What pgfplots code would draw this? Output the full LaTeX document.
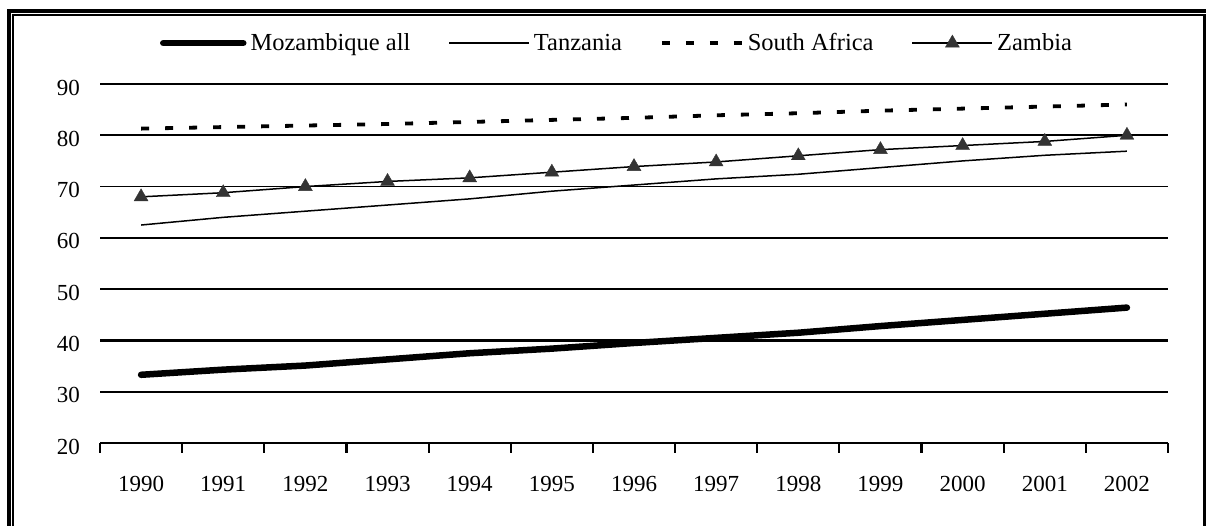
\documentclass[border=0pt]{standalone}
\usepackage{fontspec}
\setmainfont{Liberation Serif}
\usepackage{pgfplots}
\pgfplotsset{compat=1.18}
\begin{document}
\begin{tikzpicture}[x=1pt,y=1pt]
\useasboundingbox (0,0) rectangle (1206,526);
% frame (open at the bottom)
\fill[black] (6.7,0) rectangle (10.7,516.7);
\fill[black] (6.7,516.7) rectangle (1206,513.3);
\fill[black] (12.2,0) rectangle (14,511.7);
\fill[black] (12.2,511.7) rectangle (1203.3,510.1);
\fill[black] (1203.3,0) rectangle (1206,511.7);
\begin{axis}[
  at={(100pt,83pt)}, anchor=south west,
  width=1068pt, height=359pt, scale only axis,
  xmin=-0.5, xmax=12.5, ymin=20, ymax=90,
  axis x line=bottom, axis y line=left,
  y axis line style={draw=none},
  x axis line style={-, line width=2.5pt, black},
  xtick={0,1,2,3,4,5,6,7,8,9,10,11,12},
  xticklabels={1990,1991,1992,1993,1994,1995,1996,1997,1998,1999,2000,2001,2002},
  minor xtick={-0.5,0.5,...,12.5},
  major tick length=0pt, minor tick length=10pt, tick align=outside,
  minor tick style={line width=2.2pt, black},
  major tick style={draw=none},
  ytick={20,30,40,60,80,90},
  extra y ticks={50,70},
  ymajorgrids,
  major grid style={black, line width=2.3pt},
  extra y tick style={ymajorgrids=true, major grid style={black, line width=1.3pt}, major tick style={draw=none}},
  /pgf/number format/assume math mode=true,
  ticklabel style={font=\fontsize{23}{26}\selectfont, inner sep=0pt},
  yticklabel style={anchor=east, xshift=-20pt, yshift=-3.5pt},
  xticklabel style={anchor=north, yshift=-33pt},
  legend style={at={(0.0562,1.114)}, anchor=west, draw=none, fill=none,
    inner sep=0pt, outer sep=0pt, legend columns=4,
    font=\fontsize{24.5}{29}\selectfont, nodes={inner sep=0pt},
    /tikz/every odd column/.append style={column sep=4pt},
    /tikz/every even column/.append style={column sep=38pt}},
  legend cell align=left,
  legend image code/.code={\draw[mark repeat=2,mark phase=2,#1] plot coordinates {(0pt,0pt) (40pt,0pt) (80pt,0pt)};},
]
\addplot[black, line width=6.5pt, line cap=round, line join=round] coordinates {
(0,33.3) (1,34.3) (2,35.1) (3,36.3) (4,37.5) (5,38.4) (6,39.5) (7,40.5) (8,41.5) (9,42.8) (10,44.0) (11,45.2) (12,46.4)};
\addlegendentry{Mozambique all}
\addplot[black, line width=1.5pt] coordinates {
(0,62.5) (1,64.0) (2,65.2) (3,66.4) (4,67.6) (5,69.1) (6,70.3) (7,71.5) (8,72.4) (9,73.7) (10,75.0) (11,76.1) (12,76.9)};
\addlegendentry{Tanzania}
\addplot[black, line width=3.8pt, dash pattern=on 8pt off 16pt] coordinates {
(0,81.3) (1,81.6) (2,81.9) (3,82.2) (4,82.6) (5,83.0) (6,83.4) (7,83.9) (8,84.3) (9,84.8) (10,85.2) (11,85.6) (12,86.0)};
\addlegendentry{South Africa}
\addplot[black, line width=1.5pt, mark=triangle*, mark size=8pt, mark options={solid, fill=black!80, draw=black!80, line width=0.4pt}] coordinates {
(0,68.0) (1,68.8) (2,70.0) (3,71.0) (4,71.7) (5,72.8) (6,73.9) (7,74.8) (8,76.0) (9,77.2) (10,78.0) (11,78.8) (12,80.0)};
\addlegendentry{Zambia}
\end{axis}
\end{tikzpicture}
\end{document}
